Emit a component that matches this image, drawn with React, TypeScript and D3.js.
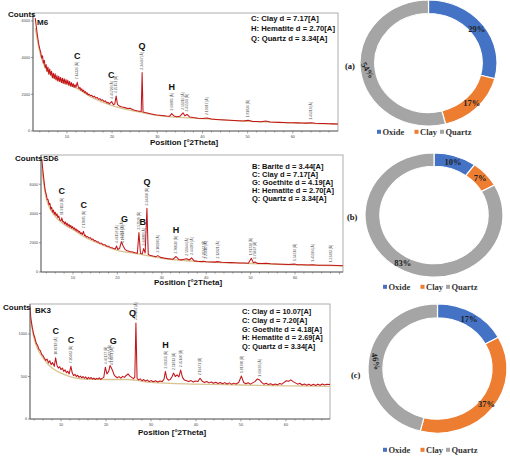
import React from "react";
import * as d3 from "d3";

// ---------- XRD pattern data (2θ, counts) ----------
const M6_PATTERN: [number, number][] = [
  [3.0, 6150], [3.2, 5750], [3.4, 5350], [3.6, 5000], [3.8, 4700], [4.0, 4480], [4.2, 4300], [4.4, 3980],
  [4.6, 4100], [4.8, 3700], [5.0, 3850], [5.2, 3450], [5.4, 3620], [5.6, 3250], [5.8, 3480], [6.0, 3100],
  [6.2, 3380], [6.4, 3050], [6.6, 3260], [6.8, 2900], [7.0, 3150], [7.2, 2850], [7.4, 3120], [7.6, 2780],
  [7.8, 3020], [8.0, 2720], [8.2, 2980], [8.4, 2700], [8.6, 2920], [8.8, 2640], [9.0, 2880], [9.2, 2600],
  [9.4, 2850], [9.6, 2560], [9.8, 2800], [10.0, 2560], [10.2, 2760], [10.4, 2500], [10.6, 2700], [10.8, 2450],
  [11.0, 2640], [11.2, 2420], [11.4, 2580], [11.6, 2380], [11.8, 2520], [12.0, 2380], [12.3, 2650], [12.5, 2420],
  [12.7, 2300], [12.9, 2380], [13.1, 2220], [13.3, 2300], [13.5, 2150], [13.7, 2230], [13.9, 2090], [14.1, 2150],
  [14.3, 2020], [14.5, 2080], [14.7, 1960], [14.9, 2010], [15.2, 1920], [15.5, 1950], [15.8, 1850], [16.1, 1890],
  [16.4, 1800], [16.7, 1830], [17.0, 1730], [17.3, 1760], [17.6, 1670], [17.9, 1700], [18.2, 1610], [18.5, 1640],
  [18.8, 1540], [19.1, 1560], [19.4, 1480], [19.9, 1600], [20.3, 1430], [20.6, 1480], [20.9, 1900], [21.2, 1450],
  [21.6, 1360], [22.0, 1320], [22.5, 1290], [23.0, 1260], [23.5, 1230], [24.0, 1240], [24.5, 1170], [25.0, 1130],
  [25.5, 1100], [26.0, 1080], [26.45, 1060], [26.65, 3180], [26.85, 1040], [27.3, 1010], [27.8, 980], [28.5, 940],
  [29.0, 915], [29.5, 890], [30.0, 870], [31.0, 845], [32.0, 815], [32.7, 800], [33.2, 950], [33.7, 820],
  [34.3, 780], [35.0, 800], [35.7, 990], [36.1, 830], [36.6, 900], [37.2, 760], [38.0, 730], [39.0, 700],
  [40.0, 680], [41.0, 710], [42.0, 650], [43.0, 630], [44.0, 615], [45.0, 600], [46.0, 585], [47.0, 570],
  [48.0, 555], [49.0, 540], [50.1, 580], [51.0, 525], [52.0, 515], [53.0, 505], [54.0, 540], [55.0, 490],
  [56.0, 478], [57.0, 470], [58.0, 462], [59.0, 455], [60.0, 450], [61.0, 444], [62.0, 438], [63.0, 430],
  [64.0, 450], [65.0, 420], [66.0, 412], [67.0, 405], [68.0, 396], [69.0, 388], [70.0, 380],
];
const M6_BACKGROUND: [number, number][] = [
  [3, 5600], [4, 4300], [5, 3550], [6, 3150], [8, 2750], [10, 2550], [12, 2350], [15, 1900], [20, 1380],
  [25, 1080], [30, 850], [40, 670], [50, 520], [60, 440], [70, 375],
];
const M6_PEAK_LABELS: [number, string][] = [
  [12.3, "7.14336 [Å]"], [19.9, "4.45720 [Å]"], [20.9, "4.25151 [Å]"], [26.65, "3.34467 [Å]"],
  [33.2, "2.69805 [Å]"], [35.7, "2.51316 [Å]"], [36.6, "2.45519 [Å]"], [41.0, "2.19917 [Å]"],
  [50.1, "1.81836 [Å]"], [64.0, "1.45319 [Å]"],
];
const M6_PHASES: [string, number][] = [["C", 12.3], ["C", 19.8], ["Q", 26.65], ["H", 33.2]];
const M6_LEGEND = ["C: Clay d = 7.17[A]", "H: Hematite d = 2.70[A]", "Q: Quartz d = 3.34[A]"];
const M6_Y_TICKS = [0, 2000, 4000, 6000];

const SD6_PATTERN: [number, number][] = [
  [3.0, 7650], [3.2, 7000], [3.4, 6450], [3.6, 5900], [3.8, 5500], [4.0, 5300], [4.2, 4950], [4.4, 4950],
  [4.6, 4600], [4.8, 4700], [5.0, 4300], [5.2, 4420], [5.4, 4100], [5.6, 4230], [5.8, 3950], [6.0, 4080],
  [6.2, 3850], [6.4, 3980], [6.6, 3720], [6.8, 3830], [7.0, 3580], [7.3, 3500], [7.5, 3700], [7.7, 3420],
  [7.9, 3460], [8.1, 3300], [8.3, 3420], [8.5, 3220], [8.7, 3330], [8.9, 3140], [9.1, 3250], [9.3, 3080],
  [9.5, 3180], [9.7, 3010], [9.9, 3100], [10.1, 2940], [10.3, 3030], [10.5, 2860], [10.7, 2950], [10.9, 2790],
  [11.1, 2860], [11.3, 2710], [11.5, 2780], [11.7, 2630], [11.9, 2680], [12.1, 2560], [12.35, 2780], [12.6, 2480],
  [12.8, 2520], [13.0, 2400], [13.3, 2430], [13.6, 2320], [13.9, 2350], [14.2, 2220], [14.5, 2260], [14.8, 2130],
  [15.1, 2150], [15.4, 2050], [15.7, 2070], [16.0, 1960], [16.4, 1970], [16.8, 1860], [17.2, 1870], [17.6, 1760],
  [18.0, 1760], [18.4, 1680], [18.8, 1660], [19.2, 1600], [19.55, 1580], [19.8, 1780], [20.1, 1540], [20.5, 1620],
  [20.9, 2070], [21.3, 1780], [21.7, 1550], [22.2, 1450], [22.8, 1400], [23.4, 1360], [24.0, 1310], [24.5, 1280],
  [24.85, 2700], [25.2, 1270], [25.6, 1240], [25.9, 1600], [26.25, 1300], [26.65, 4350], [26.95, 1200], [27.3, 1140],
  [28.0, 1090], [28.7, 1050], [29.1, 1120], [29.7, 1000], [30.5, 950], [31.5, 910], [32.5, 870], [33.2, 1060],
  [33.8, 860], [34.5, 830], [35.6, 910], [36.2, 820], [36.7, 960], [37.3, 760], [38.0, 730], [39.0, 710],
  [39.4, 740], [40.0, 700], [41.0, 690], [42.0, 675], [42.5, 710], [43.5, 660], [44.5, 650], [45.5, 640],
  [46.5, 630], [47.5, 620], [48.5, 610], [49.5, 600], [50.15, 935], [50.6, 640], [51.0, 680], [51.5, 590],
  [52.5, 580], [53.5, 600], [54.5, 560], [55.5, 545], [57.0, 530], [58.5, 515], [59.9, 540], [60.5, 500],
  [61.5, 490], [63.0, 480], [64.0, 500], [65.0, 465], [66.5, 455], [68.1, 460], [69.5, 440], [70.8, 430],
];
const SD6_BACKGROUND: [number, number][] = [
  [3, 7000], [4, 5000], [6, 3800], [8, 3250], [10, 2900], [12, 2500], [15, 2050], [20, 1480], [25, 1220],
  [30, 940], [40, 690], [50, 580], [60, 495], [70.8, 425],
];
const SD6_PEAK_LABELS: [number, string][] = [
  [7.5, "11.9113 [Å]"], [12.35, "7.17085 [Å]"], [19.8, "4.46158 [Å]"], [20.9, "4.25179 [Å]"],
  [21.3, "4.18614 [Å]"], [24.85, "3.57129 [Å]"], [25.9, "3.44000 [Å]"], [26.65, "3.34410 [Å]"],
  [29.1, "3.10198 [Å]"], [33.2, "2.70030 [Å]"], [35.6, "2.51944 [Å]"], [36.7, "2.44389 [Å]"],
  [39.4, "2.29342 [Å]"], [40.0, "2.25610 [Å]"], [42.5, "2.12921 [Å]"], [50.15, "1.81738 [Å]"],
  [51.0, "1.79497 [Å]"], [59.9, "1.54316 [Å]"], [64.0, "1.45184 [Å]"], [68.1, "1.37483 [Å]"],
];
const SD6_PHASES: [string, number][] = [
  ["C", 7.5], ["C", 12.4], ["G", 21.6], ["B", 25.7], ["Q", 26.65], ["H", 33.2],
];
const SD6_LEGEND = [
  "B: Barite d = 3.44[A]", "C: Clay d = 7.17[A]", "G: Goethite d = 4.19[A]",
  "H: Hematite d = 2.70[A]", "Q: Quartz d = 3.34[A]",
];
const SD6_Y_TICKS = [0, 2000, 4000, 6000];

const BK3_PATTERN: [number, number][] = [
  [3.1, 1320], [3.3, 1180], [3.6, 1080], [3.9, 1000], [4.2, 950], [4.5, 890], [4.8, 865], [5.1, 820],
  [5.4, 805], [5.7, 760], [6.0, 745], [6.3, 715], [6.6, 690], [6.9, 705], [7.2, 660], [7.5, 685],
  [7.8, 640], [8.1, 665], [8.5, 620], [8.8, 720], [9.1, 630], [9.4, 600], [9.7, 615], [10.0, 580],
  [10.3, 600], [10.6, 560], [10.9, 578], [11.2, 545], [11.5, 562], [11.8, 530], [12.2, 620], [12.5, 540],
  [12.8, 510], [13.1, 525], [13.4, 500], [13.7, 515], [14.0, 490], [14.3, 505], [14.6, 485], [14.9, 500],
  [15.2, 480], [15.5, 495], [15.8, 470], [16.1, 490], [16.4, 475], [16.7, 488], [17.0, 468], [17.3, 482],
  [17.6, 465], [17.9, 478], [18.2, 470], [18.5, 485], [18.8, 465], [19.1, 478], [19.5, 490], [19.85, 610],
  [20.2, 530], [20.6, 560], [20.9, 630], [21.2, 600], [21.5, 565], [21.8, 520], [22.1, 500], [22.5, 485],
  [22.9, 498], [23.3, 480], [23.7, 502], [24.1, 490], [24.5, 512], [24.9, 530], [25.3, 505], [25.7, 490],
  [26.1, 475], [26.4, 492], [26.65, 1130], [26.9, 480], [27.2, 460], [27.6, 472], [28.0, 450], [28.4, 464],
  [28.8, 445], [29.2, 458], [29.6, 440], [30.0, 452], [30.5, 438], [31.0, 450], [31.5, 435], [32.0, 448],
  [32.5, 440], [32.9, 470], [33.2, 560], [33.5, 480], [33.9, 455], [34.3, 466], [34.7, 500], [35.0, 540],
  [35.4, 500], [35.8, 520], [36.2, 495], [36.6, 575], [37.0, 490], [37.4, 460], [37.9, 450], [38.4, 440],
  [38.9, 452], [39.4, 435], [39.9, 446], [40.4, 440], [40.9, 480], [41.4, 445], [41.9, 430], [42.4, 441],
  [42.9, 425], [43.4, 436], [43.9, 420], [44.4, 432], [44.9, 418], [45.4, 430], [45.9, 415], [46.4, 428],
  [46.9, 412], [47.4, 425], [47.9, 410], [48.4, 422], [48.9, 412], [49.5, 430], [50.1, 505], [50.6, 430],
  [51.1, 415], [51.6, 426], [52.1, 410], [52.6, 425], [53.1, 440], [53.6, 470], [54.1, 462], [54.6, 430],
  [55.1, 410], [55.6, 421], [56.1, 405], [56.6, 416], [57.1, 400], [57.6, 412], [58.1, 402], [58.6, 418],
  [59.1, 410], [59.6, 430], [60.1, 450], [60.6, 444], [61.1, 460], [61.6, 440], [62.1, 425], [62.6, 410],
  [63.1, 421], [63.6, 400], [64.1, 412], [64.6, 398], [65.1, 410], [65.6, 395], [66.1, 408], [66.6, 395],
  [67.1, 410], [67.6, 398], [68.1, 412], [68.6, 400], [69.1, 410], [69.8, 405],
];
const BK3_BACKGROUND: [number, number][] = [
  [3.1, 1200], [4, 950], [6, 720], [8, 600], [10, 540], [15, 470], [20, 465], [25, 465], [30, 430],
  [40, 410], [50, 400], [60, 390], [69.8, 385],
];
const BK3_PEAK_LABELS: [number, string][] = [
  [8.8, "10.0718 [Å]"], [12.2, "7.20483 [Å]"], [19.85, "4.46177 [Å]"], [20.9, "4.25827 [Å]"],
  [21.2, "4.18261 [Å]"], [26.65, "3.34262 [Å]"], [33.2, "2.69351 [Å]"], [35.0, "2.51813 [Å]"],
  [36.6, "2.45160 [Å]"], [40.9, "2.19471 [Å]"], [50.1, "1.81780 [Å]"], [54.1, "1.69695 [Å]"],
];
const BK3_PHASES: [string, number][] = [["C", 8.8], ["C", 12.2], ["G", 21.6], ["Q", 25.9], ["H", 33.2]];
const BK3_LEGEND = [
  "C: Clay d = 10.07[A]", "C: Clay d = 7.20[A]", "G: Goethite d = 4.18[A]",
  "H: Hematite d = 2.69[A]", "Q: Quartz d = 3.34[A]",
];
const BK3_Y_TICKS = [0, 500, 1000];

const X_TICKS = [10, 20, 30, 40, 50, 60];

// ---------- Donut data ----------
const DONUT_CATEGORIES = ["Oxide", "Clay", "Quartz"];
const DONUT_COLORS = ["#4472C4", "#ED7D31", "#A5A5A5"];
const DONUT_A_VALUES = [29, 17, 54];
const DONUT_B_VALUES = [10, 7, 83];
const DONUT_C_VALUES = [17, 37, 46];

type XrdProps = {
  id: string;
  name: string;
  data: [number, number][];
  bg: [number, number][];
  labels: [number, string][];
  phases: [string, number][];
  legend: string[];
  yTicks: number[];
  left: number; right: number; top: number; bottom: number;
  xDomain: [number, number]; yMax: number;
  countsX: number; countsY: number;
  nameX: number; nameY: number;
  legendX: number; legendY: number; legendStep: number; legendFs: number;
  titleX: number; titleY: number;
};

const SANS = "'Liberation Sans', Arial, sans-serif";
const SERIF = "'Liberation Serif', 'Times New Roman', serif";

function Xrd(p: XrdProps) {
  const x = d3.scaleLinear().domain(p.xDomain).range([p.left, p.right]);
  const y = d3.scaleLinear().domain([0, p.yMax]).range([p.bottom, p.top]);
  const line = d3.line<[number, number]>().x(d => x(d[0])).y(d => y(d[1]));
  const bgLine = d3.line<[number, number]>().x(d => x(d[0])).y(d => y(d[1])).curve(d3.curveMonotoneX);
  const minor = d3.range(Math.ceil(p.xDomain[0] / 2) * 2, p.xDomain[1], 2);
  const labelFs = 3.4;
  const peakTop = (t: number) => {
    const near = p.data.filter(d => Math.abs(d[0] - t) <= 0.3);
    return d3.max(near, d => d[1]) ?? 0;
  };
  const labelGeom = p.labels.map(([t, txt]) => {
    const yb = y(peakTop(t)) - 3;
    const len = txt.length * 0.47 * labelFs;
    return { t, txt, yb, ytop: yb - len };
  });
  return (
    <g>
      <defs>
        <clipPath id={p.id}>
          <rect x={p.left} y={p.top} width={p.right - p.left} height={p.bottom - p.top} />
        </clipPath>
      </defs>
      <rect x={p.left} y={p.top} width={p.right - p.left} height={p.bottom - p.top} fill="#fff" stroke="#9a9a9a" strokeWidth={0.8} />
      <g clipPath={`url(#${p.id})`}>
        <path d={bgLine(p.bg) ?? ""} fill="none" stroke="#d8c490" strokeWidth={1.3} />
        <path d={line(p.data) ?? ""} fill="none" stroke="#c3161b" strokeWidth={1.05} strokeLinejoin="round" />
      </g>
      <line x1={p.left} x2={p.left} y1={p.top} y2={p.bottom} stroke="#555" strokeWidth={0.8} />
      <line x1={p.left} x2={p.right} y1={p.bottom} y2={p.bottom} stroke="#555" strokeWidth={0.8} />
      {p.yTicks.map(v => (
        <g key={v}>
          <line x1={p.left - 2} x2={p.left} y1={y(v)} y2={y(v)} stroke="#555" strokeWidth={0.6} />
          <text x={p.left - 3} y={y(v) + 1.3} fontSize={3.8} textAnchor="end" fill="#444" fontFamily={SANS}>{v}</text>
        </g>
      ))}
      {minor.map(v => (
        <line key={v} x1={x(v)} x2={x(v)} y1={p.bottom} y2={p.bottom + (v % 10 === 0 ? 2.5 : 1.6)} stroke="#555" strokeWidth={0.5} />
      ))}
      {X_TICKS.map(v => (
        <text key={v} x={x(v)} y={p.bottom + 6.5} fontSize={3.8} textAnchor="middle" fill="#444" fontFamily={SANS}>{v}</text>
      ))}
      {labelGeom.map(l => (
        <text key={l.t} transform={`translate(${x(l.t)},${l.yb}) rotate(-90)`} dy={labelFs * 0.35}
          fontSize={labelFs} fill="#555" fontFamily={SANS}>{l.txt}</text>
      ))}
      {p.phases.map(([ch, t], i) => {
        const nearest = labelGeom.reduce((a, b) => (Math.abs(b.t - t) < Math.abs(a.t - t) ? b : a));
        const yy = Math.max(nearest.ytop - 3, p.top + 12);
        return (
          <text key={i} x={x(t)} y={yy} fontSize={9} fontWeight="bold" textAnchor="middle"
            fill="#111" fontFamily={SANS}>{ch}</text>
        );
      })}
      <text x={p.countsX} y={p.countsY} fontSize={8} fontWeight="bold" fill="#111" fontFamily={SANS}>Counts</text>
      <text x={p.nameX} y={p.nameY} fontSize={8} fontWeight="bold" fill="#111" fontFamily={SANS}>{p.name}</text>
      {p.legend.map((s, i) => (
        <text key={i} x={p.legendX} y={p.legendY + i * p.legendStep} fontSize={p.legendFs} fontWeight="bold"
          fill="#111" fontFamily={SANS}>{s}</text>
      ))}
      <text x={p.titleX} y={p.titleY} fontSize={8} fontWeight="bold" textAnchor="middle" fill="#111" fontFamily={SANS}>
        Position [°2Theta]
      </text>
    </g>
  );
}

type DonutProps = {
  values: number[];
  cx: number; cy: number; r: number; sy: number;
  tag: string; tagX: number; tagY: number;
  legendX: number; legendY: number;
  rot: number[];
};

function Donut(p: DonutProps) {
  const pie = d3.pie<number>().sort(null).value(d => d);
  const arcs = pie(p.values);
  const inner = p.r * 0.785;
  const arc = d3.arc<d3.PieArcDatum<number>>().innerRadius(inner).outerRadius(p.r);
  const lr = (inner + p.r) / 2;
  const offs = [0, 37.5, 63];
  return (
    <g>
      <g transform={`translate(${p.cx},${p.cy}) scale(1,${p.sy})`}>
        {arcs.map((a, i) => (
          <path key={i} d={arc(a) ?? ""} fill={DONUT_COLORS[i]} stroke="#fff" strokeWidth={1.2} />
        ))}
      </g>
      {arcs.map((a, i) => {
        const m = (a.startAngle + a.endAngle) / 2;
        const lx = p.cx + lr * Math.sin(m);
        const ly = p.cy - lr * Math.cos(m) * p.sy;
        return (
          <text key={i} transform={`translate(${lx},${ly}) rotate(${p.rot[i]})`} dy={3} textAnchor="middle"
            fontSize={8.5} fontWeight="bold" fill="#222" fontFamily={SERIF}>{`${p.values[i]}%`}</text>
        );
      })}
      <text x={p.tagX} y={p.tagY} fontSize={8.5} fontWeight="bold" fill="#111" fontFamily={SERIF}>{p.tag}</text>
      {DONUT_CATEGORIES.map((c, i) => (
        <g key={c}>
          <rect x={p.legendX + offs[i]} y={p.legendY - 2.2} width={4} height={4} fill={DONUT_COLORS[i]} />
          <text x={p.legendX + offs[i] + 5.5} y={p.legendY + 2.6} fontSize={8.5} fontWeight="bold" fill="#333"
            fontFamily={SERIF}>{c}</text>
        </g>
      ))}
    </g>
  );
}

export default function App() {
  return (
    <svg width={510} height={456} viewBox="0 0 510 456"
      style={{ position: "absolute", left: 0, top: 0, background: "#fff" }}>
      <rect width={510} height={456} fill="#fff" />
      <Xrd id="c1" name="M6" data={M6_PATTERN} bg={M6_BACKGROUND} labels={M6_PEAK_LABELS} phases={M6_PHASES}
        legend={M6_LEGEND} yTicks={M6_Y_TICKS}
        left={33} right={338} top={13} bottom={131} xDomain={[2.5, 70]} yMax={6430}
        countsX={8} countsY={17} nameX={37} nameY={25}
        legendX={251} legendY={21} legendStep={10} legendFs={7.7} titleX={184} titleY={145} />
      <Xrd id="c2" name="SD6" data={SD6_PATTERN} bg={SD6_BACKGROUND} labels={SD6_PEAK_LABELS} phases={SD6_PHASES}
        legend={SD6_LEGEND} yTicks={SD6_Y_TICKS}
        left={41} right={343} top={155} bottom={272} xDomain={[2.8, 70.8]} yMax={8000}
        countsX={15} countsY={161} nameX={43} nameY={161}
        legendX={252} legendY={169} legendStep={8} legendFs={7.5} titleX={188} titleY={285} />
      <Xrd id="c3" name="BK3" data={BK3_PATTERN} bg={BK3_BACKGROUND} labels={BK3_PEAK_LABELS} phases={BK3_PHASES}
        legend={BK3_LEGEND} yTicks={BK3_Y_TICKS}
        left={30} right={330} top={304} bottom={419} xDomain={[3.1, 69.8]} yMax={1353}
        countsX={3} countsY={310} nameX={35} nameY={313}
        legendX={242} legendY={314} legendStep={8.8} legendFs={7.4} titleX={172} titleY={435} />
      <Donut values={DONUT_A_VALUES} cx={428.5} cy={63} r={68.5} sy={0.92} tag="(a)" tagX={345} tagY={69}
        legendX={377} legendY={132} rot={[0, 0, 58]} />
      <Donut values={DONUT_B_VALUES} cx={434} cy={215} r={69} sy={0.9} tag="(b)" tagX={347} tagY={220}
        legendX={383} legendY={287} rot={[0, 0, 0]} />
      <Donut values={DONUT_C_VALUES} cx={437.5} cy={368.5} r={69.5} sy={0.93} tag="(c)" tagX={351} tagY={378}
        legendX={383} legendY={450} rot={[0, 0, 78]} />
    </svg>
  );
}
